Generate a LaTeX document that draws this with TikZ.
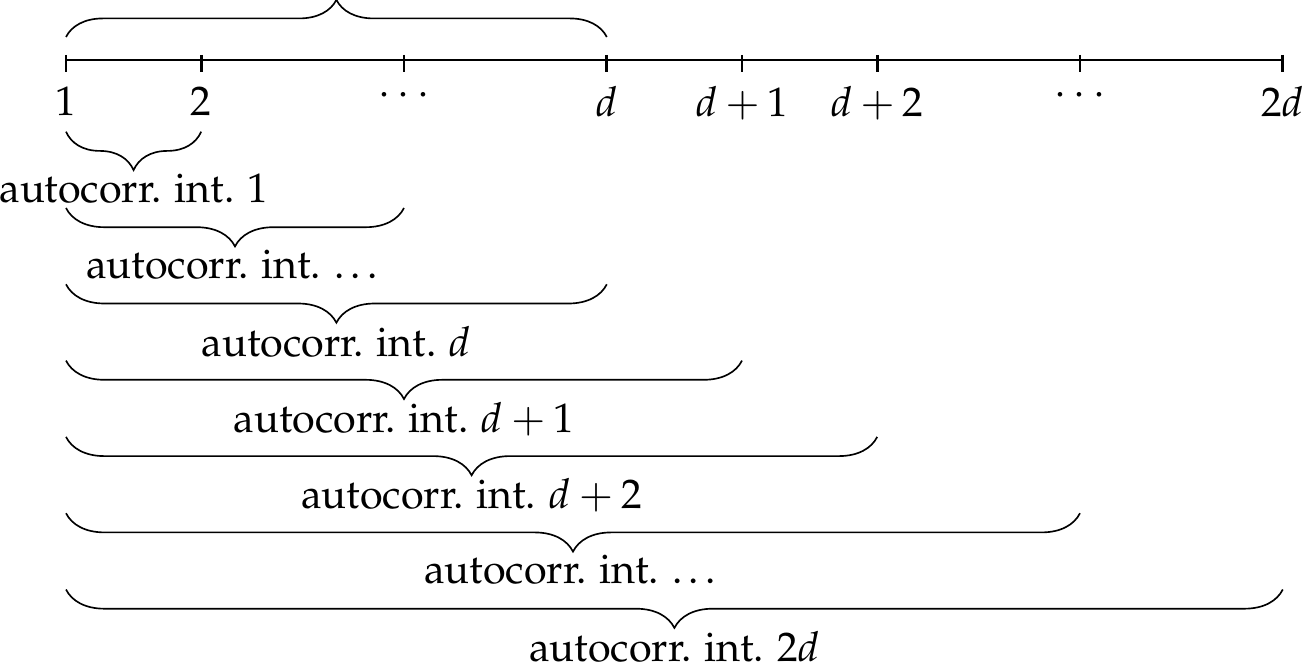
\documentclass[tikz,border=0pt]{standalone}
\usepackage[T1]{fontenc}
\usepackage{mathpazo}
\usetikzlibrary{decorations.pathreplacing,calc}
\begin{document}
\begin{tikzpicture}[x=0.24213pt,y=-0.24213pt,
  axisline/.style={line width=0.65pt},
  bracedown/.style={decorate,decoration={brace,mirror,amplitude=9.3pt}},
  braceup/.style={decorate,decoration={brace,amplitude=9pt}},
  ticklabel/.style={anchor=north,inner sep=0pt},
  intlabel/.style={anchor=north,inner sep=0pt}]
\useasboundingbox (0,0) rectangle (1308,672);
% axis points
\foreach \n/\x in {1/66,2/201.2,3/404,4/606.8,5/742,6/877.2,7/1080,8/1282.8}
  \coordinate (t\n) at (\x,60);
\draw[axisline] (t1) -- (t8);
\foreach \n in {1,...,8}
  \draw[axisline] ($(t\n)+(0,-5)$) coordinate (tu\n) -- ($(t\n)+(0,11.7)$) coordinate (td\n);
% tick labels
\foreach \n/\txt in {1/$1$,2/$2$,3/$\cdots$,4/$d$,5/$d+1$,6/$d+2$,7/$\cdots$,8/$2d$}
  \node[ticklabel] (lab\n) at ($(t\n)+(0,26)$) {\txt};
% top brace
\coordinate (ta) at (66,37);
\coordinate (tb) at (606.8,37);
\draw[braceup] (ta) -- (tb);
% interval braces
\foreach \k/\e/\txt in {0/2/$1$,1/3/\ldots,2/4/$d$,3/5/$d+1$,4/6/$d+2$,5/7/\ldots,6/8/$2d$}{
  \pgfmathsetmacro\yy{131.7+76.3*\k}
  \coordinate (bs\k) at (66,\yy);
  \coordinate (be\k) at ($(t\e)+(0,\yy-60)$);
  \draw[bracedown] (bs\k) -- (be\k);
  \node[intlabel] (int\k) at ($($(bs\k)!0.5!(be\k)$)+(0,41)$) {autocorr. int. \txt};
}
\end{tikzpicture}
\end{document}
